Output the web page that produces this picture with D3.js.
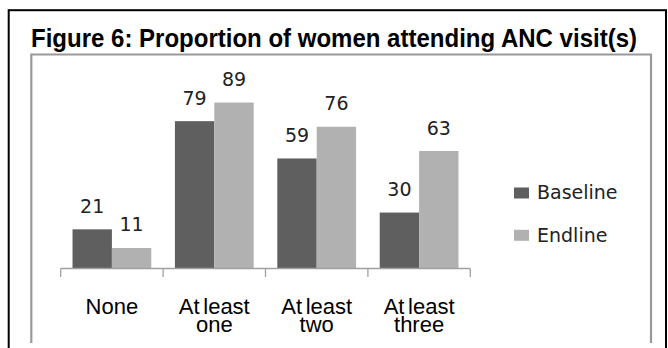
<!DOCTYPE html>
<html>
<head>
<meta charset="utf-8">
<script src="https://cdn.jsdelivr.net/npm/d3@7"></script>
<style>
  html, body { margin: 0; padding: 0; background: #fff; }
  svg { display: block; }
</style>
</head>
<body>
<div id="chart"></div>
<script>
// ---- data ----
const titleText = "Figure 6: Proportion of women attending ANC visit(s)";
const categories = ["None", "At least one", "At least two", "At least three"];
const categoryLines = [["None"], ["At least", "one"], ["At least", "two"], ["At least", "three"]];
const seriesNames = ["Baseline", "Endline"];
const baselineValues = [21, 79, 59, 30];
const endlineValues = [11, 89, 76, 63];
const seriesColors = ["#5f5f5f", "#b1b1b1"];

const W = 668, H = 348;
const svg = d3.select("#chart").append("svg").attr("width", W).attr("height", H);

// frames
svg.append("rect").attr("x", 8.7).attr("y", 10.2).attr("width", 666 - 8.7).attr("height", 400)
  .attr("fill", "none").attr("stroke", "#000").attr("stroke-width", 2);
svg.append("path").attr("d", "M31.3,343 V54.5 H651 V343")
  .attr("fill", "none").attr("stroke", "#999").attr("stroke-width", 2.2);

// title
svg.append("text").attr("x", 31).attr("y", 46.7)
  .attr("font-family", "'Liberation Sans Narrow', 'Liberation Sans', Arial, sans-serif")
  .attr("font-weight", "bold").attr("font-size", 25)
  .attr("textLength", 606).attr("lengthAdjust", "spacingAndGlyphs")
  .attr("fill", "#000").text(titleText);

// scales
const x0 = d3.scaleBand().domain(categories).range([60.7, 470.3]).paddingInner(0).paddingOuter(0);
const x1 = d3.scaleBand().domain(seriesNames).range([0, x0.bandwidth()]).paddingInner(0).paddingOuter(0.3);
const y = d3.scaleLinear().domain([0, 100]).range([268.5, 82]);
const color = d3.scaleOrdinal().domain(seriesNames).range(seriesColors);

const rows = categories.map((c, i) => ({
  cat: c, lines: categoryLines[i],
  vals: [{s: seriesNames[0], v: baselineValues[i]}, {s: seriesNames[1], v: endlineValues[i]}]
}));

const g = svg.append("g");
const groups = g.selectAll("g.grp").data(rows).join("g").attr("class", "grp")
  .attr("transform", d => `translate(${x0(d.cat)},0)`);

groups.selectAll("rect").data(d => d.vals).join("rect")
  .attr("x", d => x1(d.s)).attr("width", x1.bandwidth())
  .attr("y", d => y(d.v)).attr("height", d => y(0) - y(d.v))
  .attr("fill", d => color(d.s));

groups.selectAll("text.val").data(d => d.vals).join("text").attr("class", "val")
  .attr("x", d => x1(d.s) + x1.bandwidth() / 2)
  .attr("y", d => y(d.v) - 16.5)
  .attr("text-anchor", "middle")
  .attr("font-family", "'DejaVu Sans', sans-serif").attr("font-size", 19)
  .attr("fill", "#222").text(d => d.v);

// axis line and ticks
const axisG = svg.append("g");
axisG.append("line").attr("x1", x0.range()[0]).attr("x2", x0.range()[1])
  .attr("y1", y(0)).attr("y2", y(0)).attr("stroke", "#a0a0a0").attr("stroke-width", 1.3);
const tickXs = categories.map(c => x0(c)).concat([x0.range()[1]]);
axisG.selectAll("line.tick").data(tickXs).join("line").attr("class", "tick")
  .attr("x1", d => d).attr("x2", d => d).attr("y1", y(0)).attr("y2", y(0) + 8.5)
  .attr("stroke", "#a0a0a0").attr("stroke-width", 1.3);

// category labels
const catG = svg.selectAll("text.cat").data(rows).join("text").attr("class", "cat")
  .attr("text-anchor", "middle")
  .attr("font-family", "'Liberation Sans', Arial, sans-serif").attr("font-size", 22)
  .attr("word-spacing", -2.5)
  .attr("fill", "#000");
catG.selectAll("tspan").data(d => d.lines.map(l => ({l, x: x0(d.cat) + x0.bandwidth() / 2})))
  .join("tspan").attr("x", d => d.x).attr("y", (d, i) => 313.8 + i * 17.8).text(d => d.l);

// legend
const leg = svg.selectAll("g.leg").data(seriesNames).join("g").attr("class", "leg")
  .attr("transform", (d, i) => `translate(0,${i * 42.3})`);
leg.append("rect").attr("x", 514).attr("y", 187.5).attr("width", 15).attr("height", 11)
  .attr("fill", d => color(d));
leg.append("text").attr("x", 537).attr("y", 199.3)
  .attr("font-family", "'DejaVu Sans', sans-serif").attr("font-size", 19)
  .attr("fill", "#222").text(d => d);
</script>
</body>
</html>
